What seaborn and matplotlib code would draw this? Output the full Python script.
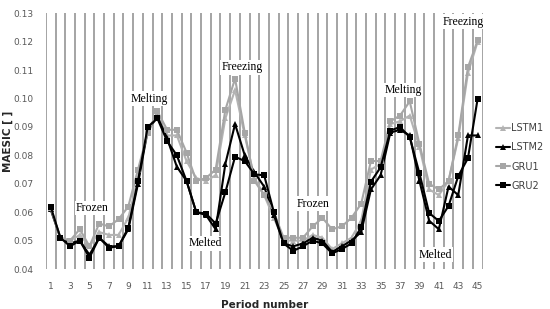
import matplotlib
matplotlib.use("Agg")
import matplotlib.pyplot as plt
import seaborn as sns
import pandas as pd
import numpy as np

periods = list(range(1, 46))

lstm1 = [0.061, 0.051, 0.050, 0.052, 0.048, 0.053, 0.052, 0.052, 0.058, 0.072,
         0.088, 0.094, 0.087, 0.087, 0.078, 0.072, 0.071, 0.073, 0.093, 0.103,
         0.087, 0.072, 0.066, 0.058, 0.050, 0.050, 0.050, 0.052, 0.051, 0.047,
         0.049, 0.051, 0.057, 0.075, 0.077, 0.091, 0.092, 0.094, 0.083, 0.068,
         0.066, 0.071, 0.086, 0.109, 0.120]
lstm2 = [0.061, 0.051, 0.049, 0.050, 0.045, 0.051, 0.048, 0.048, 0.054, 0.070,
         0.089, 0.0936, 0.086, 0.076, 0.071, 0.060, 0.059, 0.054, 0.077, 0.091,
         0.080, 0.074, 0.069, 0.059, 0.049, 0.048, 0.049, 0.051, 0.050, 0.046,
         0.048, 0.050, 0.053, 0.068, 0.073, 0.088, 0.089, 0.087, 0.071, 0.057,
         0.054, 0.069, 0.066, 0.087, 0.087]
gru1 = [0.0615, 0.051, 0.050, 0.054, 0.048, 0.056, 0.055, 0.0575, 0.062, 0.075,
        0.088, 0.0955, 0.089, 0.089, 0.081, 0.071, 0.072, 0.075, 0.096, 0.107,
        0.088, 0.071, 0.066, 0.060, 0.051, 0.051, 0.051, 0.055, 0.058, 0.054,
        0.055, 0.058, 0.063, 0.078, 0.078, 0.092, 0.094, 0.099, 0.084, 0.070,
        0.068, 0.071, 0.087, 0.111, 0.1205]
gru2 = [0.062, 0.051, 0.048, 0.050, 0.044, 0.051, 0.0475, 0.048, 0.0545, 0.071,
        0.090, 0.093, 0.085, 0.080, 0.071, 0.060, 0.0595, 0.056, 0.067, 0.0795,
        0.078, 0.0733, 0.073, 0.060, 0.049, 0.0464, 0.048, 0.050, 0.049, 0.0455,
        0.047, 0.049, 0.0547, 0.0707, 0.0758, 0.0887, 0.090, 0.0864, 0.0737, 0.0597,
        0.0569, 0.0622, 0.0727, 0.079, 0.100]

series_names = ["LSTM1", "LSTM2", "GRU1", "GRU2"]
series_values = [lstm1, lstm2, gru1, gru2]

annot_texts = ["Frozen", "Melting", "Melted", "Freezing", "Frozen", "Melting", "Melted", "Freezing"]
annot_x = [5.3, 11.2, 16.9, 20.7, 28.0, 37.3, 40.6, 43.5]
annot_y = [0.0615, 0.100, 0.049, 0.111, 0.063, 0.103, 0.045, 0.127]

xtick_labels = [str(p) for p in range(1, 46, 2)]
ytick_values = [0.04, 0.05, 0.06, 0.07, 0.08, 0.09, 0.10, 0.11, 0.12, 0.13]

sns.set_style("white")
plt.rcParams['font.family'] = ['DejaVu Sans']

fig = plt.figure(figsize=(5.5, 3.09), dpi=100)
ax = fig.add_axes([0.0833, 0.1294, 0.8773 - 0.0833, 0.957 - 0.1294])

styles = {
    "LSTM1": dict(color="#b3b3b3", marker="^"),
    "LSTM2": dict(color="#000000", marker="^"),
    "GRU1": dict(color="#a6a6a6", marker="s"),
    "GRU2": dict(color="#000000", marker="s"),
}

# vertical gridlines between categories
for b in np.arange(0.5, 46, 1.0):
    ax.axvline(b, color="#8c8c8c", lw=1.1, zorder=0)

for name, vals in zip(series_names, series_values):
    df = pd.DataFrame({"Period": periods, "MAESIC": vals})
    st = styles[name]
    sns.lineplot(data=df, x="Period", y="MAESIC", ax=ax, color=st["color"],
                 marker=st["marker"], markersize=5, markeredgewidth=0,
                 linewidth=1.5, label=name, zorder=3)

for t, x, y in zip(annot_texts, annot_x, annot_y):
    ax.text(x, y, t, fontsize=8.5, family="Liberation Serif", ha="center", va="center",
            color="#000000", zorder=2,
            bbox=dict(boxstyle="square,pad=0.12", fc="white", ec="none"))

ax.set_xlim(0.5, 45.5)
ax.set_ylim(0.04, 0.13)
ax.set_xticks(list(range(1, 46, 2)))
ax.set_xticklabels(xtick_labels)
ax.set_yticks(ytick_values)
ax.set_yticklabels([f"{v:.2f}" for v in ytick_values])
ax.tick_params(axis="x", length=0, labelsize=6.5, colors="#595959", pad=9)
ax.tick_params(axis="y", length=0, labelsize=6.5, colors="#595959", pad=9)
for s in ax.spines.values():
    s.set_visible(False)
ax.grid(False)

ax.set_xlabel("Period number", fontsize=7.5, fontweight="bold", color="#262626", labelpad=7)
ax.set_ylabel("MAESIC [ ]", fontsize=7.5, fontweight="bold", color="#262626")
ax.yaxis.set_label_coords(-0.087, 0.5)
ax.yaxis.label.set_verticalalignment("center")

leg = ax.legend(loc="center left", bbox_to_anchor=(1.016, 0.438), frameon=False,
                fontsize=7, handlelength=1.4, handletextpad=0.15, labelspacing=0.95,
                borderaxespad=0.3)
for txt in leg.get_texts():
    txt.set_color("#404040")

fig.savefig("out.png", dpi=100)
